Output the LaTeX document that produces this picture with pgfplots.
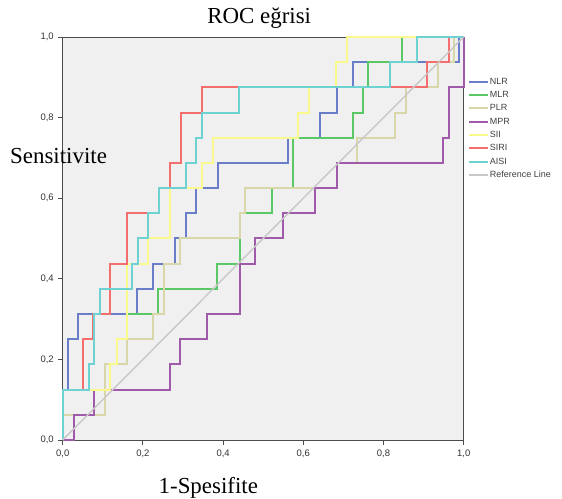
\documentclass[border=0pt]{standalone}
\usepackage{fontspec}
\setmainfont{Liberation Serif}
\newfontfamily\arial{Liberation Sans}
\usepackage{pgfplots}
\pgfplotsset{compat=1.18}

\definecolor{bgc}{RGB}{240,240,240}
\definecolor{cNLR}{RGB}{105,125,200}
\definecolor{cMLR}{RGB}{90,200,100}
\definecolor{cPLR}{RGB}{215,215,170}
\definecolor{cMPR}{RGB}{160,90,170}
\definecolor{cSII}{RGB}{250,250,140}
\definecolor{cSIRI}{RGB}{245,110,110}
\definecolor{cAISI}{RGB}{110,210,210}
\definecolor{cREF}{RGB}{200,200,200}

\begin{document}
\begin{tikzpicture}
\useasboundingbox (-62.7bp,-59bp) rectangle (499.3bp,440bp);
\begin{axis}[
  scale only axis, width=401bp, height=403bp,
  xmin=0, xmax=1, ymin=0, ymax=1, clip=false,
  axis background/.style={fill=bgc},
  axis line style={draw=black!70, line width=0.9bp},
  xtick={0,0.2,0.4,0.6,0.8,1}, ytick={0,0.2,0.4,0.6,0.8,1},
  xticklabels={{0,0},{0,2},{0,4},{0,6},{0,8},{1,0}},
  yticklabels={{0,0},{0,2},{0,4},{0,6},{0,8},{1,0}},
  tick align=outside, xtick pos=bottom, ytick pos=left,
  major tick length=4.5bp, tick style={draw=black!70, line width=0.8bp},
  ticklabel style={font=\arial\fontsize{9.5}{10}\selectfont, text=black!80},
  xticklabel style={yshift=-2bp}, yticklabel style={xshift=-1bp},
  no markers,
  legend style={at={(1.0107,0.901)}, anchor=north west, draw=none, fill=none, inner sep=0pt,
    font=\arial\fontsize{9}{10}\selectfont, text=black!75, row sep=3.7bp,
    nodes={inner sep=0.8bp, text height=6.5bp, text depth=1.5bp}, cells={anchor=west}},
  legend image code/.code={\draw[#1, line width=2bp] (0bp,0bp) -- (19bp,0bp);},
]
\addplot[cNLR, line width=2bp] coordinates {(0,0)(0,0.125)(0.012,0.125)(0.012,0.25)(0.039,0.25)(0.039,0.3125)(0.186,0.3125)(0.186,0.375)(0.226,0.375)(0.226,0.4375)(0.28,0.4375)(0.28,0.5)(0.307,0.5)(0.307,0.5625)(0.333,0.5625)(0.333,0.625)(0.387,0.625)(0.387,0.6875)(0.561,0.6875)(0.561,0.75)(0.642,0.75)(0.642,0.8125)(0.683,0.8125)(0.683,0.875)(0.723,0.875)(0.723,0.9375)(0.989,0.9375)(0.989,1)(1,1)};
\addlegendentry{NLR}
\addplot[cMLR, line width=2bp] coordinates {(0,0)(0,0.125)(0.105,0.125)(0.105,0.1875)(0.160,0.1875)(0.160,0.3125)(0.238,0.3125)(0.238,0.375)(0.386,0.375)(0.386,0.4375)(0.442,0.4375)(0.442,0.5625)(0.521,0.5625)(0.521,0.625)(0.575,0.625)(0.575,0.75)(0.723,0.75)(0.723,0.8125)(0.748,0.8125)(0.748,0.875)(0.762,0.875)(0.762,0.9375)(0.845,0.9375)(0.845,1)(1,1)};
\addlegendentry{MLR}
\addplot[cPLR, line width=2bp] coordinates {(0,0)(0,0.0625)(0.105,0.0625)(0.105,0.1875)(0.160,0.1875)(0.160,0.25)(0.226,0.25)(0.226,0.3125)(0.253,0.3125)(0.253,0.4375)(0.292,0.4375)(0.292,0.5)(0.442,0.5)(0.442,0.5625)(0.455,0.5625)(0.455,0.625)(0.683,0.625)(0.683,0.6875)(0.735,0.6875)(0.735,0.75)(0.829,0.75)(0.829,0.8125)(0.855,0.8125)(0.855,0.875)(0.937,0.875)(0.937,0.9375)(0.976,0.9375)(0.976,1)(1,1)};
\addlegendentry{PLR}
\addplot[cMPR, line width=2bp] coordinates {(0,0)(0.027,0)(0.027,0.0625)(0.079,0.0625)(0.079,0.125)(0.267,0.125)(0.267,0.1875)(0.293,0.1875)(0.293,0.25)(0.36,0.25)(0.36,0.3125)(0.442,0.3125)(0.442,0.4375)(0.48,0.4375)(0.48,0.5)(0.549,0.5)(0.549,0.5625)(0.629,0.5625)(0.629,0.625)(0.683,0.625)(0.683,0.6875)(0.949,0.6875)(0.949,0.75)(0.964,0.75)(0.964,0.875)(1,0.875)(1,1)};
\addlegendentry{MPR}
\addplot[cSII, line width=2bp] coordinates {(0,0)(0,0.125)(0.118,0.125)(0.118,0.1875)(0.135,0.1875)(0.135,0.25)(0.160,0.25)(0.160,0.4375)(0.212,0.4375)(0.212,0.5)(0.268,0.5)(0.268,0.625)(0.347,0.625)(0.347,0.6875)(0.374,0.6875)(0.374,0.75)(0.588,0.75)(0.588,0.8125)(0.615,0.8125)(0.615,0.875)(0.682,0.875)(0.682,0.9375)(0.710,0.9375)(0.710,1)(1,1)};
\addlegendentry{SII}
\addplot[cSIRI, line width=2bp] coordinates {(0,0)(0,0.125)(0.051,0.125)(0.051,0.25)(0.076,0.25)(0.076,0.3125)(0.118,0.3125)(0.118,0.4375)(0.160,0.4375)(0.160,0.5625)(0.239,0.5625)(0.239,0.625)(0.268,0.625)(0.268,0.6875)(0.295,0.6875)(0.295,0.8125)(0.347,0.8125)(0.347,0.875)(0.908,0.875)(0.908,0.9375)(0.964,0.9375)(0.964,1)(1,1)};
\addlegendentry{SIRI}
\addplot[cAISI, line width=2bp] coordinates {(0,0)(0,0.125)(0.066,0.125)(0.066,0.1875)(0.078,0.1875)(0.078,0.3125)(0.093,0.3125)(0.093,0.375)(0.172,0.375)(0.172,0.4375)(0.189,0.4375)(0.189,0.5)(0.212,0.5)(0.212,0.5625)(0.239,0.5625)(0.239,0.625)(0.308,0.625)(0.308,0.6875)(0.332,0.6875)(0.332,0.75)(0.347,0.75)(0.347,0.8125)(0.44,0.8125)(0.44,0.875)(0.817,0.875)(0.817,0.9375)(0.883,0.9375)(0.883,1)(1,1)};
\addlegendentry{AISI}
\addplot[cREF, line width=1.4bp] coordinates {(0,0)(1,1)};
\addlegendentry{Reference Line}
\end{axis}
\node[font=\fontsize{23}{26}\selectfont, anchor=base] at (196.5bp,416.9bp) {ROC eğrisi};
\node[font=\fontsize{23}{26}\selectfont, anchor=base west, inner sep=0pt] at (-52.7bp,276.7bp) {Sensitivite};
\node[font=\fontsize{23}{26}\selectfont, anchor=base] at (145.6bp,-53.5bp) {1-Spesifite};
\end{tikzpicture}
\end{document}
